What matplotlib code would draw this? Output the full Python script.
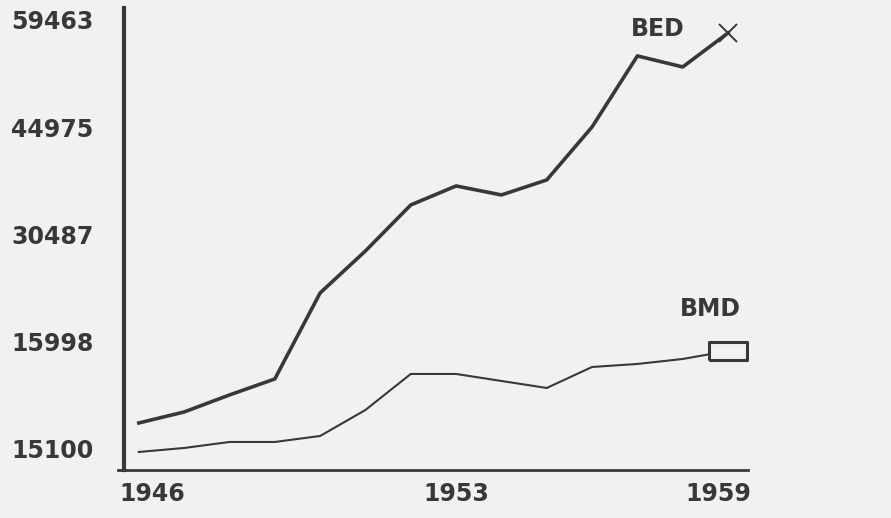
import numpy as np
import matplotlib
matplotlib.use("Agg")
import matplotlib.pyplot as plt
from matplotlib.transforms import ScaledTranslation

# ============================================================
# Data
# ============================================================
YEARS = [1946, 1947, 1948, 1949, 1950, 1951, 1952,
         1953, 1954, 1955, 1956, 1957, 1958, 1959]

BED = [5023, 6509, 8805, 10967, 22586, 28260, 34474,
       37041, 35825, 37852, 45012, 54604, 53118, 57712]

BMD = [1105, 1645, 2456, 2456, 3266, 6779, 11643,
       11643, 10697, 9751, 12588, 12994, 13669, 14750]

Y_TICKS = [1510, 15998, 30487, 44975, 59463]
Y_TICK_LABELS = ["15100", "15998", "30487", "44975", "59463"]
X_TICKS = [1946, 1953, 1959]
X_TICK_LABELS = ["1946", "1953", "1959"]

# ============================================================
# Style
# ============================================================
PAPER = "#f1f1f1"
INK = "#383838"
FONT = dict(family="DejaVu Sans", weight="bold", size=17, color=INK)

fig = plt.figure(figsize=(8.91, 5.18), dpi=100, facecolor=PAPER)
ax = fig.add_axes([0.139, 0.0927, 0.7005, 0.892])
ax.set_facecolor(PAPER)

ax.plot(YEARS, BED, color=INK, linewidth=2.6, solid_joinstyle="round")
ax.plot(YEARS[-1], BED[-1], marker="x", markersize=13, markeredgewidth=1.4,
        color=INK, linestyle="none")

box = [(-1, -0.46), (1, -0.46), (1, 0.46), (-1, 0.46), (-1, -0.46)]
ax.plot(YEARS, BMD, color=INK, linewidth=1.5)
ax.plot(YEARS[-1], BMD[-1], marker=box, markersize=27, markeredgewidth=2.2,
        markerfacecolor=PAPER, markeredgecolor=INK, linestyle="none")

# series labels
ax.text(1957.45, 58250, "BED", ha="center", va="center", **FONT)
ax.text(1958.6, 20420, "BMD", ha="center", va="center", **FONT)

ax.set_xlim(1945.67, 1959.44)
ax.set_ylim(-1327, 61089)

ax.set_yticks(Y_TICKS)
ax.set_yticklabels(Y_TICK_LABELS, fontdict=FONT)
ax.set_xticks(X_TICKS)
ax.set_xticklabels(X_TICK_LABELS, fontdict=FONT)
ax.tick_params(axis="y", length=0, pad=22)
ax.tick_params(axis="x", length=0, pad=9)

# nudge first / last year labels like on the printout
xl = ax.get_xticklabels()
xl[0].set_transform(xl[0].get_transform() + ScaledTranslation(13 / 100, 0, fig.dpi_scale_trans))
xl[-1].set_transform(xl[-1].get_transform() + ScaledTranslation(-10 / 100, 0, fig.dpi_scale_trans))

for side in ["top", "right"]:
    ax.spines[side].set_visible(False)
ax.spines["left"].set_linewidth(3.0)
ax.spines["left"].set_color(INK)
ax.spines["bottom"].set_linewidth(2.0)
ax.spines["bottom"].set_color(INK)
ax.spines["bottom"].set_bounds(1945.54, 1959.44)

fig.savefig("out.png", dpi=100, facecolor=PAPER)
